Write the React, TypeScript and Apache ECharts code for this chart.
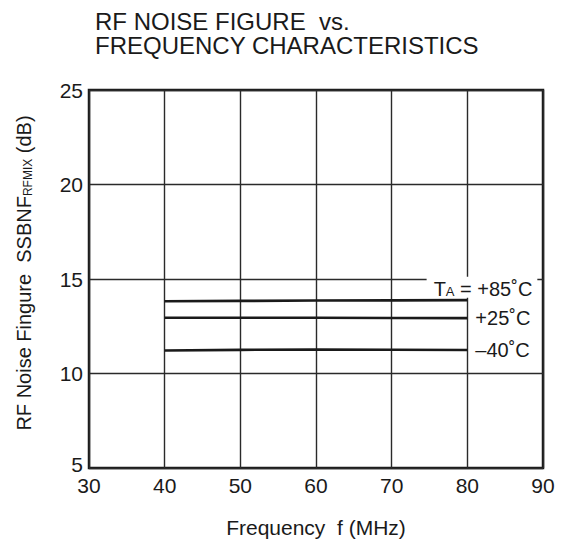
import React, { useEffect, useRef } from "react";
import * as echarts from "echarts";

const FONT = "'Liberation Sans', Arial, Helvetica, sans-serif";
const INK = "#1a1a1a";

const frequencies = [40, 50, 60, 70, 80];
const nfPlus85 = [13.82, 13.84, 13.86, 13.87, 13.88];
const nfPlus25 = [12.95, 12.95, 12.95, 12.94, 12.93];
const nfMinus40 = [11.22, 11.25, 11.27, 11.26, 11.24];
const xTicks = [30, 40, 50, 60, 70, 80, 90];
const yTicks = [5, 10, 15, 20, 25];

const pairs = (ys: number[]) => frequencies.map((f, i) => [f, ys[i]]);

export default function App() {
  const ref = useRef<HTMLDivElement>(null);
  useEffect(() => {
    if (!ref.current) return;
    const chart = echarts.init(ref.current, undefined, { renderer: "svg" });
    const lineStyle = { color: INK, width: 2.6 };
    chart.setOption({
      animation: false,
      backgroundColor: "#fff",
      textStyle: { fontFamily: FONT },
      title: {
        text: "RF NOISE FIGURE  vs.\nFREQUENCY CHARACTERISTICS",
        left: 90,
        top: 4,
        textStyle: {
          fontFamily: FONT,
          fontSize: 24,
          fontWeight: "normal",
          color: INK,
          lineHeight: 24.5,
        },
      },
      grid: {
        left: 89,
        right: 26,
        top: 90,
        bottom: 76,
        show: true,
        borderColor: INK,
        borderWidth: 2.5,
        backgroundColor: "transparent",
        containLabel: false,
        outerBoundsMode: "none",
      },
      xAxis: {
        type: "value",
        min: xTicks[0],
        max: xTicks[xTicks.length - 1],
        interval: 10,
        name: "Frequency  f (MHz)",
        nameLocation: "middle",
        nameGap: 49,
        nameTextStyle: { fontFamily: FONT, fontSize: 21, color: INK },
        axisLine: { show: false },
        axisTick: { show: false },
        axisLabel: { fontFamily: FONT, fontSize: 21, lineHeight: 14, color: INK, margin: 10 },
        splitLine: { show: true, lineStyle: { color: "#2a2a2a", width: 1.4 } },
      },
      yAxis: {
        type: "value",
        min: yTicks[0],
        max: yTicks[yTicks.length - 1],
        interval: 5,
        axisLine: { show: false },
        axisTick: { show: false },
        axisLabel: {
          fontFamily: FONT,
          fontSize: 21,
          lineHeight: 14,
          color: INK,
          margin: 6,
          formatter: (v: number) => (v === yTicks[0] ? `{m|${v}}` : String(v)),
          rich: {
            m: { fontFamily: FONT, fontSize: 21, lineHeight: 14, color: INK, padding: [0, 0, 8, 0] },
          },
        },
        splitLine: { show: true, lineStyle: { color: "#2a2a2a", width: 1.4 } },
      },
      graphic: [
        {
          type: "text",
          x: 24,
          y: 273,
          rotation: Math.PI / 2,
          style: {
            text: "{a|RF Noise Fingure  SSBNF}{b|RFMIX}{a| (dB)}",
            align: "center",
            verticalAlign: "middle",
            fill: INK,
            rich: {
              a: { fontFamily: FONT, fontSize: 20, fill: INK, lineHeight: 20 },
              b: { fontFamily: FONT, fontSize: 12, fill: INK, lineHeight: 14, verticalAlign: "bottom" },
            },
          },
        },
      ],
      series: [
        {
          type: "line",
          data: pairs(nfPlus85),
          symbol: "none",
          lineStyle,
          z: 3,
          endLabel: {
            show: true,
            align: "right",
            offset: [62, -13],
            backgroundColor: "#fff",
            padding: [3, 5, 0, 7],
            formatter: "{t|T}{s|A}{t| = +85˚C}",
            rich: {
              t: { fontFamily: FONT, fontSize: 20, color: INK, lineHeight: 18 },
              s: { fontFamily: FONT, fontSize: 13, color: INK, lineHeight: 13, verticalAlign: "bottom" },
            },
          },
        },
        {
          type: "line",
          data: pairs(nfPlus25),
          symbol: "none",
          lineStyle,
          z: 3,
          endLabel: {
            show: true,
            formatter: "+25˚C",
            fontFamily: FONT,
            fontSize: 20,
            color: INK,
          },
        },
        {
          type: "line",
          data: pairs(nfMinus40),
          symbol: "none",
          lineStyle,
          z: 3,
          endLabel: {
            show: true,
            formatter: "–40˚C",
            fontFamily: FONT,
            fontSize: 20,
            color: INK,
          },
        },
      ],
    });
    return () => chart.dispose();
  }, []);
  return (
    <div
      ref={ref}
      style={{ position: "fixed", left: 0, top: 0, width: 569, height: 544, background: "#fff" }}
    />
  );
}
